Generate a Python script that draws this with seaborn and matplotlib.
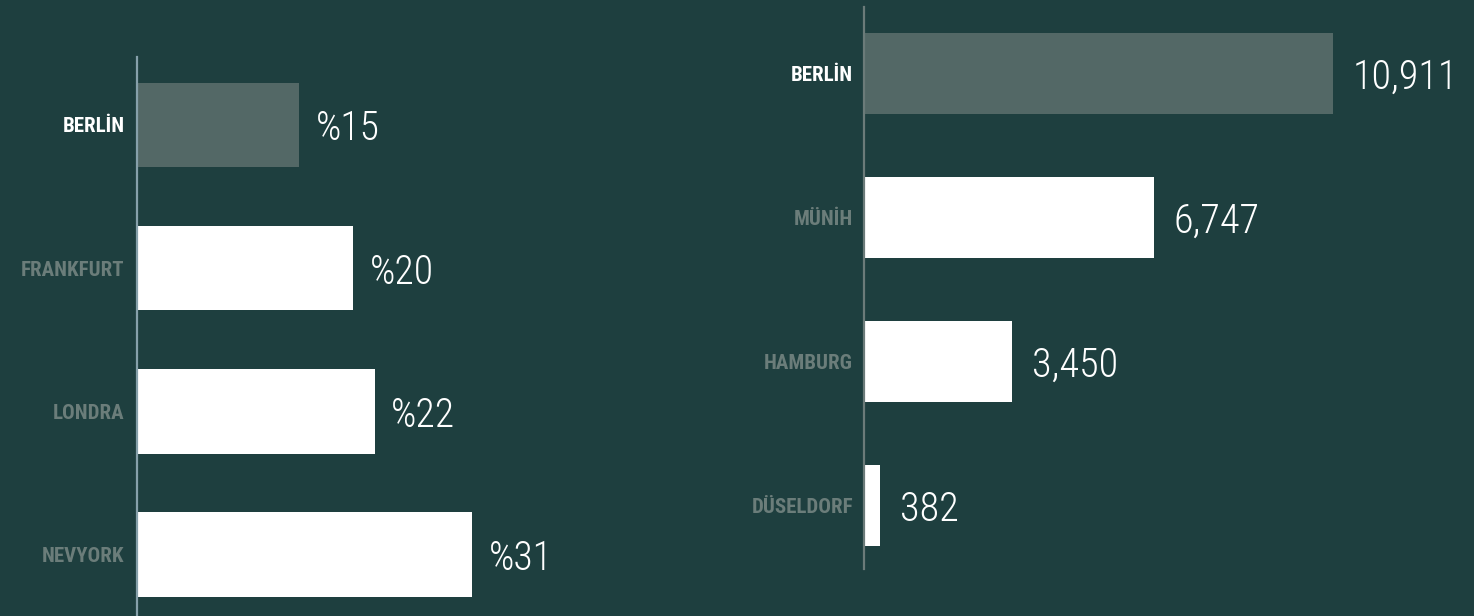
import matplotlib
matplotlib.use("Agg")
import matplotlib.pyplot as plt
import seaborn as sns
import pandas as pd

# ---- data ----
left_cities = ["BERLİN", "FRANKFURT", "LONDRA", "NEVYORK"]
left_values = [15, 20, 22, 31]
right_cities = ["BERLİN", "MÜNİH", "HAMBURG", "DÜSELDORF"]
right_values = [10911, 6747, 3450, 382]

BG = "#1e3f3f"
HIGHLIGHT = "#536866"
WHITE = "#ffffff"
LABEL_GREY = "#6b7d7a"

sns.set_theme(style="white")
plt.rcParams["font.family"] = ["Roboto Condensed", "Roboto", "DejaVu Sans"]

W, H = 1474, 616
fig = plt.figure(figsize=(W / 100, H / 100), dpi=100, facecolor=BG)


def make_panel(rect, cats, vals, xmax, ylim, spine_color, fmt, bar_w, pad,
               num_size, lab_size, dx):
    ax = fig.add_axes(rect)
    ax.set_facecolor(BG)
    df = pd.DataFrame({"city": cats, "value": vals})
    pal = {c: (HIGHLIGHT if i == 0 else WHITE) for i, c in enumerate(cats)}
    sns.barplot(data=df, x="value", y="city", hue="city", palette=pal,
                legend=False, orient="h", width=bar_w, saturation=1,
                linewidth=0, ax=ax)
    ax.set_xlim(0, xmax)
    ax.set_ylim(*ylim)
    for s in ["top", "right", "bottom"]:
        ax.spines[s].set_visible(False)
    ax.spines["left"].set_color(spine_color)
    ax.spines["left"].set_linewidth(1.6)
    ax.set_xticks([])
    ax.set_xlabel("")
    ax.set_ylabel("")
    ax.tick_params(axis="y", length=0, pad=pad)
    for i, lab in enumerate(ax.get_yticklabels()):
        lab.set_fontweight("bold")
        lab.set_fontsize(lab_size)
        lab.set_color(WHITE if i == 0 else LABEL_GREY)
    for i, v in enumerate(vals):
        ax.annotate(fmt(v), xy=(v, i), xytext=(dx, -3),
                    textcoords="offset points", va="center", ha="left",
                    color=WHITE, fontsize=num_size, fontweight="light")
    return ax


# left panel: ~10.8 px per unit, 143 px per category
lw = 600
make_panel([137 / W, 0, lw / W, (616 - 57) / H], left_cities, left_values,
           lw / 10.8, (3.43, -0.475), "#86a0aa",
           lambda v: f"%{v}", 0.59, 9, 28.5, 15, 12)

# right panel
rw = 600
make_panel([864 / W, (616 - 569) / H, rw / W, 562 / H], right_cities,
           right_values, rw / 0.04298, (3.44, -0.46), "#6b7b79",
           lambda v: f"{v:,}", 0.56, 8, 29, 15, 14)

fig.savefig("out.png", dpi=100, facecolor=BG)
